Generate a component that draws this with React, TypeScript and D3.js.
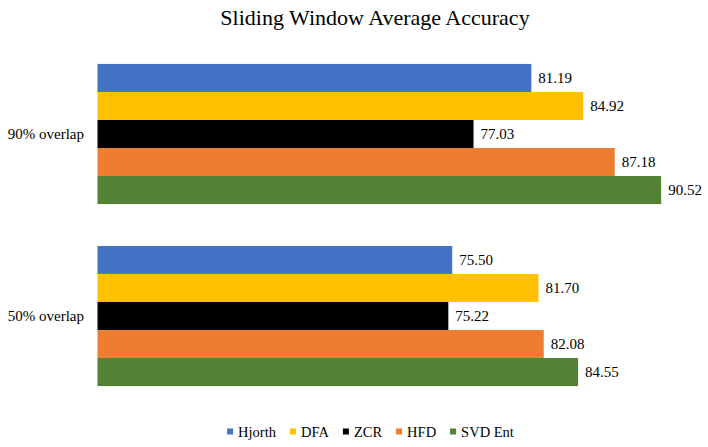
import React, { useEffect, useRef } from "react";
import * as d3 from "d3";

const categories = ["90% overlap", "50% overlap"];
const seriesNames = ["Hjorth", "DFA", "ZCR", "HFD", "SVD Ent"];
const seriesColors = ["#4472C4", "#FFC000", "#000000", "#ED7D31", "#548235"];
// values per series, in the order of categories
const hjorth = [81.19, 75.5];
const dfa = [84.92, 81.7];
const zcr = [77.03, 75.22];
const hfd = [87.18, 82.08];
const svdEnt = [90.52, 84.55];

const seriesValues = [hjorth, dfa, zcr, hfd, svdEnt];

const W = 708;
const H = 447;
const FONT = "Liberation Serif, Times New Roman, serif";

export default function App() {
  const svgRef = useRef<SVGSVGElement | null>(null);

  useEffect(() => {
    if (!svgRef.current) return;
    const svg = d3.select(svgRef.current);
    svg.selectAll("*").remove();

    const x = d3.scaleLinear().domain([50, 92.5]).range([97.5, 688.7]);
    const y0 = d3
      .scaleBand()
      .domain(categories)
      .range([43, 407])
      .paddingInner(0.23)
      .paddingOuter(0.115);
    const y1 = d3
      .scaleBand()
      .domain(seriesNames)
      .range([0, y0.bandwidth()])
      .padding(0);

    const rows = categories.flatMap((c, ci) =>
      seriesNames.map((s, si) => ({
        cat: c,
        name: s,
        color: seriesColors[si],
        value: seriesValues[si][ci],
      }))
    );

    // title
    svg
      .append("text")
      .attr("x", 375)
      .attr("y", 25)
      .attr("text-anchor", "middle")
      .attr("font-family", FONT)
      .attr("font-size", 22)
      .attr("fill", "#000")
      .text("Sliding Window Average Accuracy");

    const g = svg.append("g");

    g.selectAll(".bar")
      .data(rows)
      .join("rect")
      .attr("class", "bar")
      .attr("x", x(50))
      .attr("y", d => y0(d.cat)! + y1(d.name)!)
      .attr("width", d => x(d.value) - x(50))
      .attr("height", y1.bandwidth())
      .attr("fill", d => d.color);

    g.selectAll(".bar-value")
      .data(rows)
      .join("text")
      .attr("class", "bar-value")
      .attr("x", d => x(d.value) + 7)
      .attr("y", d => y0(d.cat)! + y1(d.name)! + y1.bandwidth() / 2)
      .attr("dy", "0.35em")
      .attr("font-family", FONT)
      .attr("font-size", 15)
      .attr("fill", "#000")
      .text(d => d.value.toFixed(2));

    // category labels
    g.selectAll(".cat-label")
      .data(categories)
      .join("text")
      .attr("class", "cat-label")
      .attr("x", 84)
      .attr("y", d => y0(d)! + y0.bandwidth() / 2)
      .attr("dy", "0.35em")
      .attr("text-anchor", "end")
      .attr("font-family", FONT)
      .attr("font-size", 15)
      .attr("fill", "#000")
      .text(d => d);

    // legend, laid out from measured text widths and centred
    const legend = svg.append("g");
    const items = legend
      .selectAll(".legend-item")
      .data(seriesNames)
      .join("g")
      .attr("class", "legend-item");
    items
      .append("rect")
      .attr("width", 6)
      .attr("height", 6)
      .attr("y", 428.5)
      .attr("fill", (_, i) => seriesColors[i]);
    const labels = items
      .append("text")
      .attr("x", 11)
      .attr("y", 437)
      .attr("font-family", FONT)
      .attr("font-size", 14.5)
      .attr("fill", "#000")
      .text(d => d);

    const widths: number[] = [];
    labels.each(function () {
      widths.push((this as SVGTextElement).getComputedTextLength());
    });
    const gap = 14;
    const itemW = widths.map(w => 11 + w);
    const total = d3.sum(itemW) + gap * (itemW.length - 1);
    let cx = 370.5 - total / 2;
    items.attr("transform", (_, i) => {
      const t = `translate(${cx},0)`;
      cx += itemW[i] + gap;
      return t;
    });
  }, []);

  return (
    <svg
      ref={svgRef}
      width={W}
      height={H}
      fontFamily={FONT}
      style={{ position: "absolute", left: 0, top: 0, background: "#fff" }}
    />
  );
}
